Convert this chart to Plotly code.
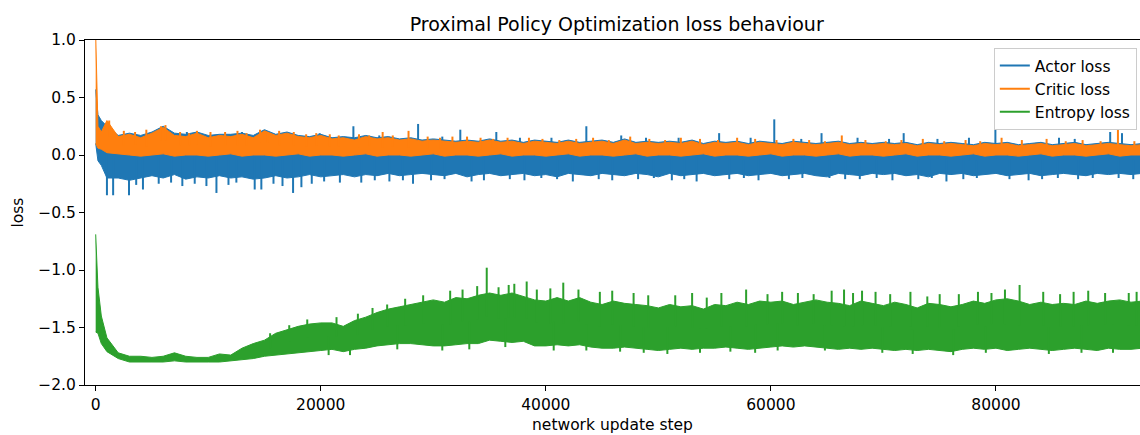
import numpy as np
import plotly.graph_objects as go

steps = [0, 200, 500] + list(range(1000, 94000, 1000))

actor_hi = [0.57, 0.35, 0.30, 0.25, 0.17, 0.19, 0.17, 0.20, 0.25, 0.19, 0.18, 0.20, 0.17, 0.18,
            0.18, 0.19, 0.17, 0.22, 0.18, 0.20, 0.17, 0.16, 0.18, 0.15, 0.16, 0.15, 0.17, 0.15,
            0.16, 0.14, 0.15, 0.13, 0.14, 0.13, 0.12, 0.13, 0.12, 0.14, 0.12, 0.13, 0.11, 0.13,
            0.12, 0.11, 0.13, 0.11, 0.12, 0.13, 0.11, 0.14, 0.11, 0.12, 0.11, 0.12, 0.11, 0.13,
            0.10, 0.12, 0.11, 0.12, 0.10, 0.12, 0.11, 0.10, 0.12, 0.11, 0.10, 0.11, 0.12, 0.10,
            0.11, 0.10, 0.11, 0.10, 0.11, 0.09, 0.11, 0.10, 0.11, 0.10, 0.09, 0.11, 0.10, 0.11,
            0.09, 0.10, 0.11, 0.09, 0.10, 0.11, 0.09, 0.10, 0.11, 0.10, 0.09, 0.10]
actor_lo = [0.10, -0.05, -0.09, -0.20, -0.20, -0.22, -0.20, -0.18, -0.20, -0.17, -0.21, -0.19,
            -0.20, -0.18, -0.20, -0.19, -0.21, -0.20, -0.18, -0.20, -0.19, -0.17, -0.19, -0.18,
            -0.17, -0.19, -0.17, -0.18, -0.16, -0.18, -0.17, -0.16, -0.17, -0.18, -0.16, -0.19,
            -0.17, -0.16, -0.18, -0.17, -0.16, -0.18, -0.17, -0.19, -0.16, -0.17, -0.18, -0.16,
            -0.17, -0.18, -0.16, -0.17, -0.19, -0.16, -0.18, -0.17, -0.16, -0.18, -0.17, -0.16,
            -0.18, -0.17, -0.16, -0.18, -0.17, -0.16, -0.18, -0.19, -0.16, -0.17, -0.18, -0.16,
            -0.17, -0.16, -0.18, -0.17, -0.19, -0.16, -0.17, -0.16, -0.18, -0.17, -0.16, -0.18,
            -0.17, -0.16, -0.18, -0.17, -0.16, -0.17, -0.18, -0.16, -0.17, -0.16, -0.17, -0.16]

critic_hi = [1.05, 0.25, 0.20, 0.30, 0.16, 0.18, 0.15, 0.19, 0.24, 0.17, 0.16, 0.19, 0.15, 0.17,
             0.16, 0.18, 0.15, 0.21, 0.17, 0.19, 0.16, 0.15, 0.17, 0.14, 0.15, 0.13, 0.16, 0.14,
             0.15, 0.13, 0.14, 0.12, 0.13, 0.12, 0.11, 0.12, 0.11, 0.13, 0.11, 0.12, 0.10, 0.12,
             0.11, 0.10, 0.12, 0.10, 0.11, 0.12, 0.10, 0.13, 0.10, 0.11, 0.10, 0.11, 0.10, 0.12,
             0.09, 0.11, 0.10, 0.11, 0.09, 0.11, 0.10, 0.09, 0.11, 0.10, 0.09, 0.10, 0.11, 0.09,
             0.10, 0.09, 0.10, 0.09, 0.10, 0.08, 0.10, 0.09, 0.10, 0.09, 0.08, 0.10, 0.09, 0.10,
             0.08, 0.09, 0.10, 0.08, 0.09, 0.10, 0.08, 0.09, 0.10, 0.09, 0.08, 0.09]
critic_lo = [0.10, 0.06, 0.05, 0.02, 0.01] + [0.0, -0.01, 0.0, 0.01, -0.01, 0.0] * 15 + [0.0]

entropy_hi = [-0.69, -1.15, -1.40, -1.59, -1.72, -1.75, -1.75, -1.76, -1.75, -1.72, -1.75, -1.76,
              -1.76, -1.73, -1.74, -1.68, -1.64, -1.61, -1.55, -1.52, -1.49, -1.47, -1.46, -1.46,
              -1.49, -1.44, -1.41, -1.37, -1.34, -1.32, -1.30, -1.28, -1.26, -1.28, -1.24, -1.25,
              -1.22, -1.20, -1.22, -1.20, -1.23, -1.26, -1.27, -1.24, -1.27, -1.24, -1.28, -1.30,
              -1.27, -1.29, -1.30, -1.31, -1.33, -1.30, -1.32, -1.31, -1.34, -1.30, -1.31, -1.28,
              -1.30, -1.27, -1.28, -1.27, -1.30, -1.28, -1.26, -1.28, -1.29, -1.31, -1.27, -1.29,
              -1.31, -1.28, -1.30, -1.33, -1.29, -1.30, -1.32, -1.30, -1.27, -1.29, -1.26, -1.25,
              -1.27, -1.30, -1.28, -1.30, -1.29, -1.30, -1.27, -1.29, -1.27, -1.26, -1.28, -1.27]
entropy_lo = [-1.54, -1.55, -1.64, -1.71, -1.77, -1.80, -1.80, -1.80, -1.80, -1.79, -1.80, -1.80,
              -1.80, -1.80, -1.79, -1.78, -1.77, -1.75, -1.74, -1.73, -1.72, -1.71, -1.70, -1.69,
              -1.71, -1.69, -1.68, -1.66, -1.65, -1.64, -1.64, -1.65, -1.66, -1.66, -1.65, -1.64,
              -1.64, -1.61, -1.62, -1.63, -1.62, -1.66, -1.66, -1.65, -1.66, -1.65, -1.67, -1.68,
              -1.68, -1.67, -1.68, -1.69, -1.70, -1.69, -1.68, -1.69, -1.68, -1.68, -1.67, -1.68,
              -1.69, -1.68, -1.67, -1.66, -1.67, -1.66, -1.67, -1.68, -1.69, -1.68, -1.69, -1.68,
              -1.69, -1.70, -1.69, -1.70, -1.69, -1.70, -1.71, -1.69, -1.68, -1.69, -1.68, -1.70,
              -1.69, -1.68, -1.69, -1.70, -1.69, -1.68, -1.69, -1.70, -1.68, -1.69, -1.69, -1.68]

# spikes sticking out of the bands: (step, value)
actor_spikes = [
    (1000, -0.35), (1550, -0.35), (2960, -0.35), (3600, -0.26), (4200, -0.30), (5200, 0.20),
    (5600, -0.25), (6700, -0.24), (7700, -0.27), (8100, 0.20), (8800, -0.25), (9840, -0.27),
    (10730, -0.33), (11800, -0.26), (12500, -0.24), (13000, 0.20), (14130, -0.30), (14720, -0.30),
    (15800, -0.25), (16600, -0.27), (17540, -0.33), (18280, -0.28), (19200, -0.25), (19900, 0.19),
    (20300, -0.23), (21700, -0.24), (22900, 0.25), (23600, -0.24), (24800, -0.22), (25200, 0.17),
    (26100, -0.23), (27300, -0.22), (28200, -0.25), (28650, 0.27), (29800, -0.22), (30800, 0.16),
    (31000, -0.21), (32400, 0.22), (33400, -0.23), (34500, -0.22), (35600, 0.20), (36800, -0.21),
    (37700, 0.15), (38100, -0.22), (39600, -0.20), (40500, 0.15), (41000, -0.21), (42400, -0.23),
    (43600, 0.25), (44700, -0.21), (45900, -0.22), (46700, 0.17), (48200, -0.21), (48900, 0.15),
    (49600, -0.20), (51200, -0.22), (51800, 0.15), (52300, -0.21), (53400, -0.23), (55400, 0.19),
    (56300, -0.21), (57600, -0.20), (58200, 0.15), (58900, -0.22), (60300, 0.31), (61600, -0.21),
    (62700, 0.14), (62800, -0.20), (64500, 0.19), (65200, -0.20), (66600, -0.21), (67700, 0.15),
    (67900, -0.21), (69400, -0.20), (70500, 0.14), (70800, -0.22), (71800, 0.19), (73100, -0.21),
    (74300, -0.20), (74800, 0.14), (75600, -0.23), (77100, -0.21), (77600, 0.15), (78300, -0.20),
    (79950, 0.24), (81200, -0.21), (82900, -0.22), (84100, -0.21), (85500, -0.20), (85600, 0.15),
    (87000, 0.14), (87300, -0.21), (88600, -0.20), (90150, 0.20), (90900, -0.20), (91200, 0.19),
    (92200, -0.21),
]
critic_spikes = [
    (1200, 0.30), (2500, 0.21), (3500, 0.20), (4500, 0.22), (5800, 0.25), (6200, 0.26),
    (7500, 0.20), (8300, 0.19), (9000, 0.21), (10200, 0.20), (11500, 0.20), (12600, 0.21),
    (13400, 0.19), (14600, 0.22), (15300, 0.20), (16300, 0.21), (17600, 0.20), (18700, 0.18),
    (19600, 0.19), (20800, 0.18), (21600, 0.17), (23400, 0.18), (24300, 0.17), (25500, 0.20),
    (26400, 0.17), (27800, 0.21), (29500, 0.16), (30600, 0.15), (31700, 0.16), (33000, 0.16),
    (34200, 0.15), (35300, 0.14), (36600, 0.15), (38500, 0.15), (39700, 0.14), (41200, 0.13),
    (42700, 0.14), (44200, 0.15), (45600, 0.13), (47500, 0.16), (49200, 0.14), (50600, 0.13),
    (52000, 0.15), (53700, 0.14), (55300, 0.13), (57000, 0.15), (58600, 0.14), (60500, 0.13),
    (62000, 0.14), (63400, 0.13), (64800, 0.12), (66300, 0.17), (68400, 0.13), (70200, 0.12),
    (71600, 0.13), (73500, 0.14), (75400, 0.12), (77300, 0.13), (78600, 0.12), (80500, 0.15),
    (82300, 0.13), (84500, 0.14), (86200, 0.12), (87700, 0.13), (89300, 0.12), (90840, 0.22),
    (92300, 0.12),
]
entropy_spikes = [
    (15500, -1.55), (17200, -1.48), (18800, -1.43), (20700, -1.74), (21400, -1.41), (22600, -1.74),
    (23300, -1.38), (24600, -1.33), (25900, -1.30), (26800, -1.69), (27500, -1.25), (29100, -1.22),
    (30800, -1.70), (31500, -1.18), (32600, -1.17), (33200, -1.69), (33900, -1.14), (34750, -0.98),
    (35800, -1.15), (36400, -1.67), (36700, -1.13), (37200, -1.12), (38300, -1.10), (39200, -1.17),
    (40400, -1.16), (40700, -1.70), (41550, -1.11), (42900, -1.17), (43600, -1.70), (44800, -1.19),
    (45900, -1.18), (46600, -1.71), (47800, -1.20), (48700, -1.72), (49100, -1.22), (50800, -1.73),
    (51500, -1.22), (53000, -1.20), (53700, -1.72), (54300, -1.24), (55600, -1.20), (56400, -1.71),
    (57800, -1.17), (58600, -1.72), (59700, -1.21), (60600, -1.70), (61000, -1.19), (62400, -1.20),
    (63800, -1.21), (64800, -1.70), (65400, -1.18), (66500, -1.17), (67300, -1.20), (68100, -1.18),
    (69300, -1.19), (69900, -1.72), (70600, -1.21), (72400, -1.19), (72600, -1.73), (73900, -1.23),
    (75000, -1.21), (76200, -1.74), (76700, -1.21), (78400, -1.19), (79100, -1.72), (79600, -1.20),
    (80800, -1.17), (82100, -1.13), (84200, -1.19), (84700, -1.73), (85700, -1.21), (86900, -1.19),
    (87600, -1.72), (88200, -1.18), (89700, -1.20), (90400, -1.72), (91800, -1.20), (92500, -1.19),
]

series = [
    ("Actor loss", "#1f77b4", actor_hi, actor_lo, actor_spikes),
    ("Critic loss", "#ff7f0e", critic_hi, critic_lo, critic_spikes),
    ("Entropy loss", "#2ca02c", entropy_hi, entropy_lo, entropy_spikes),
]

step_arr = np.array(steps)
fig = go.Figure()
for name, color, hi, lo, spikes in series:
    fig.add_trace(go.Scatter(x=steps + steps[::-1], y=hi + lo[::-1], mode="lines",
                             fill="toself", fillcolor=color, line=dict(color=color, width=1),
                             showlegend=False, hoverinfo="skip"))
    sx, sy = [], []
    for s, v in spikes:
        i = int(np.abs(step_arr - s).argmin())
        sx += [s, s, None]
        sy += [(hi[i] + lo[i]) / 2, v, None]
    fig.add_trace(go.Scatter(x=sx, y=sy, mode="lines", name=name,
                             line=dict(color=color, width=2)))

font = "DejaVu Sans, Verdana, sans-serif"
fig.update_layout(
    width=1140, height=435,
    margin=dict(l=85, r=0, t=40, b=50),
    plot_bgcolor="white", paper_bgcolor="white",
    font=dict(family=font, size=15.5, color="black"),
    title=dict(text="Proximal Policy Optimization loss behaviour", x=0.541, xanchor="center",
               y=0.945, yanchor="middle", font=dict(size=19)),
    legend=dict(x=0.997, y=0.977, xanchor="right", yanchor="top", bgcolor="white",
                bordercolor="#cccccc", borderwidth=1, font=dict(size=15.5), tracegroupgap=0),
    showlegend=True,
)
fig.update_xaxes(range=[-950, 92800], tickvals=[0, 20000, 40000, 60000, 80000], tickformat="d",
                 showline=True, linecolor="black", linewidth=1, mirror=True, automargin=False,
                 ticks="outside", ticklen=5, tickcolor="black", showgrid=False, zeroline=False,
                 title=dict(text="network update step", standoff=6, font=dict(size=15.5)),
                 tickfont=dict(size=15.5))
fig.update_yaxes(range=[-2, 1], dtick=0.5, tickformat=".1f", automargin=False,
                 showline=True, linecolor="black", linewidth=1,
                 ticks="outside", ticklen=5, tickcolor="black", showgrid=False, zeroline=False,
                 title=dict(text="loss", standoff=10, font=dict(size=15.5)), tickfont=dict(size=15.5))

# the page body has a default 8px margin; drop it so the figure fills the window
fig.write_html("out.html", config={"displayModeBar": False},
               post_script="document.body.style.margin='0';"
                           "document.body.style.overflow='hidden';")
